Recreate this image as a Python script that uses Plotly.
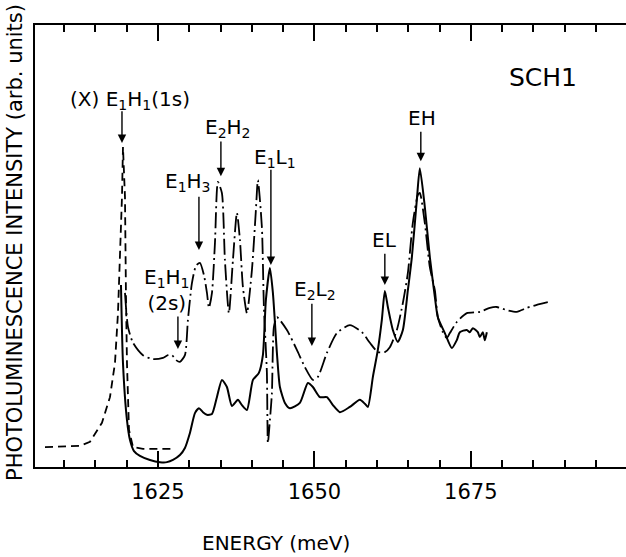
import plotly.graph_objects as go

# ---- data (energy in meV, intensity in arbitrary units) ----
dash_E = [1606.95, 1612.54, 1614.14, 1616.05, 1617.33, 1618.13, 1618.61, 1618.93, 1619.25, 1619.41,
          1619.73, 1619.89, 1620.05, 1620.37, 1621.01, 1622.60, 1627.24]
dash_I = [4.5, 4.8, 5.7, 10.0, 15.8, 23.5, 34.8, 46.2, 61.1, 72.4,
          61.1, 38.5, 23.5, 8.4, 4.5, 4.1, 4.1]

solid_E = [1619.09, 1619.41, 1620.05, 1620.53, 1621.17, 1622.12, 1623.72, 1625.32, 1626.44, 1627.40,
           1628.51, 1629.31, 1630.11, 1630.91, 1631.55, 1632.19, 1632.83, 1633.63, 1634.42, 1635.22,
           1636.02, 1636.82, 1637.78, 1638.42, 1639.22, 1640.18, 1641.13, 1641.77, 1642.25, 1642.89,
           1643.37, 1644.01, 1644.49, 1645.29, 1646.09, 1647.68, 1648.96, 1649.76, 1650.88, 1652.00,
           1652.96, 1654.07, 1655.67, 1657.27, 1658.07, 1658.55, 1659.35, 1660.14, 1660.78, 1661.26,
           1661.74, 1662.54, 1663.34, 1664.14, 1664.94, 1665.58, 1666.37, 1666.85, 1667.65, 1668.45,
           1669.25, 1669.73, 1670.85, 1671.96, 1672.76, 1673.24, 1674.36, 1674.84, 1675.32, 1676.12,
           1676.44, 1676.92, 1677.24, 1677.56]
solid_I = [41.2, 23.5, 10.6, 6.1, 3.6, 2.5, 1.6, 1.1, 1.1, 1.6,
           2.7, 4.3, 7.7, 12.2, 13.3, 12.4, 11.8, 12.0, 15.8, 19.7,
           18.1, 13.8, 15.2, 14.0, 12.9, 19.7, 21.3, 25.3, 37.8, 45.0,
           39.4, 25.8, 18.1, 14.5, 13.3, 14.5, 19.0, 18.1, 15.8, 15.8,
           14.0, 12.4, 13.6, 15.2, 14.3, 13.6, 20.4, 26.5, 33.3, 39.8,
           36.2, 31.0, 28.3, 31.0, 40.0, 47.5, 60.4, 67.6, 58.8, 47.5,
           38.5, 33.9, 30.3, 26.9, 28.7, 30.5, 31.0, 30.5, 31.4, 30.5,
           29.4, 30.5, 28.7, 30.5]

dashdot_E = [1619.73, 1620.21, 1621.01, 1622.60, 1624.20, 1625.80, 1626.60, 1627.24, 1627.88, 1628.51,
             1629.31, 1629.79, 1630.43, 1631.07, 1631.71, 1632.35, 1632.83, 1633.15, 1633.63, 1634.11,
             1634.58, 1635.22, 1635.70, 1636.34, 1636.98, 1637.62, 1638.10, 1638.58, 1639.22, 1640.02,
             1640.65, 1640.97, 1641.61, 1641.93, 1642.41, 1642.57, 1642.89, 1643.21, 1643.53, 1644.01,
             1645.61, 1647.20, 1648.48, 1649.76, 1650.56, 1652.00, 1653.59, 1655.67, 1657.59, 1658.87,
             1660.14, 1661.26, 1662.06, 1663.18, 1664.14, 1664.94, 1665.73, 1666.53, 1666.85, 1667.65,
             1668.45, 1669.25, 1669.73, 1670.53, 1671.17, 1671.65, 1672.76, 1674.36, 1676.44, 1678.04,
             1679.15, 1680.75, 1682.35, 1683.95, 1685.54, 1687.30]
dashdot_I = [39.4, 31.7, 28.1, 25.3, 24.4, 24.7, 25.3, 25.3, 24.2, 23.8,
             25.3, 33.3, 41.6, 45.5, 46.2, 43.4, 39.4, 36.0, 39.4, 50.7,
             64.5, 62.0, 46.8, 34.8, 46.8, 57.5, 51.4, 40.7, 34.8, 44.6,
             58.1, 64.9, 54.3, 36.2, 21.3, 5.4, 10.6, 16.7, 31.7, 33.9,
             31.0, 26.5, 22.6, 19.7, 20.4, 25.8, 30.3, 32.1, 30.5, 28.1,
             26.0, 26.0, 27.1, 31.0, 37.1, 43.9, 55.2, 61.5, 62.0, 55.2,
             45.2, 40.0, 33.9, 30.5, 29.2, 30.3, 32.8, 34.8, 35.1, 36.0,
             36.2, 35.5, 35.1, 36.0, 36.7, 37.3]

tick_vals = [1625, 1650, 1675]
tick_text = ["1625", "1650", "1675"]

FONT = "DejaVu Sans, sans-serif"

fig = go.Figure()
fig.add_trace(go.Scatter(x=dash_E, y=dash_I, mode="lines",
                         line=dict(color="black", width=1.8, dash="8px,5px"),
                         showlegend=False))
fig.add_trace(go.Scatter(x=solid_E, y=solid_I, mode="lines",
                         line=dict(color="black", width=2, shape="spline", smoothing=0.6),
                         showlegend=False))
fig.add_trace(go.Scatter(x=dashdot_E, y=dashdot_I, mode="lines",
                         line=dict(color="black", width=1.8, shape="spline", smoothing=0.6,
                                   dash="16px,4px,2px,4px"),
                         showlegend=False))

# labels: (text, x, y, size)
labels = [
    ("(X) E<sub>1</sub>H<sub>1</sub>(1s)", 1620.53, 83.0, 20),
    ("E<sub>2</sub>H<sub>2</sub>", 1636.18, 76.7, 20),
    ("E<sub>1</sub>H<sub>3</sub>", 1629.79, 64.5, 20),
    ("E<sub>1</sub>L<sub>1</sub>", 1643.69, 69.9, 20),
    ("E<sub>1</sub>H<sub>1</sub><br>(2s)", 1626.5, 40.0, 20),
    ("E<sub>2</sub>L<sub>2</sub>", 1650.08, 40.0, 20),
    ("EL", 1661.26, 51.4, 20),
    ("EH", 1667.17, 79.0, 20),
    ("SCH1", 1686.6, 88.2, 25),
]
annotations = []
for t, x, y, s in labels:
    annotations.append(dict(text=t, x=x, y=y, xref="x", yref="y", showarrow=False,
                            xanchor="center", yanchor="middle",
                            font=dict(family=FONT, size=s, color="black")))

# arrows: (x, y_tail, y_head)
arrows = [
    (1619.25, 80.8, 73.3),
    (1635.06, 74.0, 65.8),
    (1631.55, 61.5, 49.1),
    (1643.05, 67.6, 45.7),
    (1628.19, 34.4, 26.7),
    (1649.60, 37.3, 27.4),
    (1661.26, 48.6, 41.2),
    (1667.01, 76.2, 69.2),
]
for x, yt, yh in arrows:
    annotations.append(dict(text="", x=x, y=yh, ax=x, ay=yt, xref="x", yref="y",
                            axref="x", ayref="y", showarrow=True, arrowhead=2,
                            arrowsize=1.2, arrowwidth=1.4, arrowcolor="black"))

annotations.append(dict(text="ENERGY (meV)", x=(276 - 35) / 591, y=(467 - 543) / 442,
                        xref="paper", yref="paper", showarrow=False,
                        xanchor="center", yanchor="middle",
                        font=dict(family=FONT, size=20, color="black")))
annotations.append(dict(text="PHOTOLUMINESCENCE INTENSITY (arb. units)", textangle=-90,
                        x=(15 - 35) / 591, y=(467 - 243) / 442, xref="paper", yref="paper",
                        showarrow=False, xanchor="center", yanchor="middle",
                        font=dict(family=FONT, size=21, color="black")))

fig.update_layout(
    width=626, height=557,
    margin=dict(l=35, r=0, t=25, b=90),
    paper_bgcolor="white", plot_bgcolor="white",
    annotations=annotations,
    xaxis=dict(range=[1605.35, 1699.8], showgrid=False, zeroline=False,
               showline=True, linecolor="black", linewidth=2, mirror="ticks",
               ticks="inside", ticklen=16, tickwidth=1.5, tickcolor="black",
               tickvals=tick_vals, ticktext=tick_text, ticklabelstandoff=5,
               tickfont=dict(family=FONT, size=21, color="black"),
               minor=dict(dtick=5, tick0=1605, ticks="inside", ticklen=7,
                          tickwidth=1.5, tickcolor="black", showgrid=False)),
    yaxis=dict(range=[0, 100], showgrid=False, zeroline=False, showticklabels=False,
               showline=True, linecolor="black", linewidth=2, ticks=""),
)

fig.write_html("out.html", config={"displayModeBar": False},
               post_script="document.body.style.margin='0';")
